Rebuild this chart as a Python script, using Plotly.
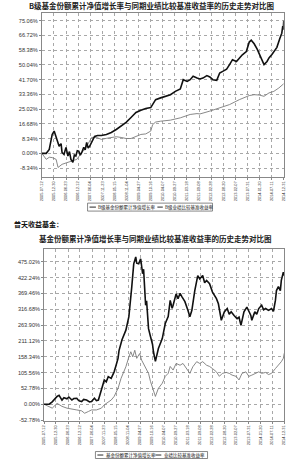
import pandas as pd
import plotly.graph_objects as go

START = "2005-07-12"

# ---------- tick labels ----------
x_tick_labels = ["2005-07-12", "2005-12-30", "2006-06-23", "2006-12-12", "2007-06-04",
                 "2007-11-23", "2008-05-15", "2008-11-04", "2009-04-27", "2009-10-16",
                 "2010-04-07", "2010-09-27", "2011-03-18", "2011-09-08", "2012-02-28",
                 "2012-08-20", "2013-02-07", "2013-07-31", "2014-01-20", "2014-07-11",
                 "2014-12-31"]
top_y_ticks = [-8.34, 0.00, 8.34, 16.68, 25.02, 33.36, 41.70, 50.04, 58.38, 66.72, 75.06]
bot_y_ticks = [-52.78, 0.00, 52.78, 105.56, 158.34, 211.12, 263.90, 316.68, 369.46, 422.24, 475.02]

# ---------- top chart: B class (days since start, %) ----------
top_fund_days = [0, 63, 106, 148, 176, 204, 247, 275, 289, 317, 345, 373, 395, 416, 444, 465,
                 486, 507, 528, 550, 571, 599, 620, 641, 662, 683, 712, 754, 796, 852, 923,
                 993, 1064, 1134, 1205, 1275, 1346, 1416, 1486, 1557, 1627, 1698, 1768, 1839,
                 1909, 1980, 2022, 2078, 2121, 2163, 2219, 2261, 2304, 2360, 2402, 2445, 2501,
                 2543, 2586, 2642, 2684, 2726, 2783, 2825, 2867, 2924, 2966, 2994, 3036, 3079,
                 3135, 3177, 3220, 3248, 3290, 3318, 3361, 3403, 3431, 3445, 3452, 3459]
top_fund_vals = [0.0, 0.0, 2.2, 10.7, 12.6, 9.0, 4.0, 5.5, 0.5, -0.6, 3.4, -1.5, 1.0, -3.4,
                 -5.1, -1.0, -1.5, 1.5, 1.3, -1.0, 0.5, 3.4, 2.0, 6.2, 3.0, 4.0, 6.2, 9.6,
                 10.1, 10.1, 10.7, 11.8, 13.5, 15.4, 17.5, 20.3, 23.1, 24.4, 25.4, 25.9, 30.4,
                 31.4, 32.3, 33.2, 35.1, 36.4, 41.7, 40.7, 41.7, 43.6, 42.6, 42.1, 42.6, 44.0,
                 43.2, 41.7, 41.3, 45.5, 46.4, 47.7, 50.2, 53.0, 52.0, 53.9, 55.8, 57.6, 63.0,
                 64.0, 62.0, 59.0, 54.0, 50.2, 52.0, 54.0, 56.0, 57.6, 60.0, 65.0, 68.0, 72.0,
                 70.0, 75.0]
top_bench_days = [0, 63, 106, 148, 204, 232, 289, 359, 430, 500, 571, 613, 683, 712, 782, 852,
                  923, 993, 1064, 1134, 1205, 1275, 1346, 1416, 1486, 1557, 1585, 1627, 1698,
                  1839, 1980, 2121, 2219, 2261, 2402, 2543, 2684, 2825, 2966, 3036, 3107, 3177,
                  3248, 3318, 3389, 3459]
top_bench_vals = [0.0, -3.4, -2.2, -2.4, -3.4, -8.0, -6.2, -5.3, -4.3, -3.4, 0.5, 2.2, 6.9,
                  9.0, 9.0, 7.9, 8.5, 9.0, 9.4, 9.0, 8.4, 8.4, 9.4, 10.7, 11.0, 12.6, 16.3,
                  17.7, 18.2, 18.8, 20.1, 22.0, 22.5, 22.3, 23.9, 25.7, 27.6, 30.4, 32.7, 33.2,
                  33.0, 32.3, 34.2, 35.1, 37.0, 39.4]

# ---------- bottom chart: fund (days since start, %) ----------
bot_fund_days = [0, 75, 118, 160, 188, 217, 259, 287, 330, 358, 401, 429, 472, 500, 542, 571,
                 613, 656, 684, 726, 755, 783, 826, 868, 896, 925, 967, 1010, 1038, 1066, 1080,
                 1123, 1179, 1222, 1264, 1292, 1321, 1335, 1363, 1392, 1420, 1434, 1448, 1463,
                 1477, 1491, 1505, 1533, 1562, 1576, 1604, 1647, 1675, 1703, 1746, 1788, 1817,
                 1845, 1859, 1902, 1930, 1959, 1987, 2029, 2072, 2100, 2129, 2171, 2214, 2242,
                 2285, 2313, 2341, 2384, 2426, 2483, 2511, 2553, 2596, 2638, 2667, 2695, 2737,
                 2780, 2808, 2836, 2879, 2921, 2950, 2978, 2992, 3035, 3063, 3092, 3134, 3162,
                 3191, 3233, 3276, 3304, 3332, 3347, 3375, 3403, 3417, 3446, 3459]
bot_fund_vals = [0, 0, 8, 20, 26, 30, 14, 22, 18, 24, 14, 19, 20, 12, 9, 16, 14, 8, 9, 20, 12,
                 14, 47, 81, 75, 92, 86, 108, 130, 153, 179, 215, 247, 292, 392, 468, 491, 470,
                 468, 485, 435, 450, 392, 330, 345, 302, 252, 226, 200, 175, 143, 186, 200, 219,
                 269, 292, 346, 320, 330, 368, 352, 370, 358, 342, 313, 292, 313, 379, 429, 418,
                 429, 405, 413, 402, 374, 352, 335, 280, 308, 319, 300, 308, 296, 285, 290, 263,
                 308, 324, 310, 296, 280, 308, 300, 319, 330, 315, 319, 313, 319, 310, 346, 379,
                 392, 379, 413, 440, 429]
bot_bench_days = [0, 75, 118, 188, 217, 259, 330, 401, 472, 542, 585, 641, 684, 755, 826, 868,
                  925, 967, 1010, 1066, 1109, 1151, 1179, 1222, 1250, 1278, 1307, 1335, 1377,
                  1406, 1448, 1477, 1505, 1533, 1576, 1604, 1647, 1703, 1746, 1788, 1817, 1859,
                  1902, 1959, 2001, 2058, 2100, 2143, 2199, 2242, 2285, 2341, 2384, 2426, 2483,
                  2525, 2568, 2624, 2667, 2709, 2766, 2808, 2851, 2907, 2950, 2992, 3049, 3092,
                  3134, 3191, 3233, 3276, 3332, 3375, 3417, 3446, 3459]
bot_bench_vals = [0, -7, -13, 3, -2, -7, -13, -15, -19, -22, -30, -24, -19, -19, -13, -2, 9,
                  14, 26, 53, 86, 110, 125, 158, 175, 158, 180, 153, 169, 147, 130, 114, 103,
                  76, 43, 26, 53, 70, 93, 103, 126, 114, 136, 130, 136, 119, 103, 125, 142, 136,
                  142, 130, 126, 119, 108, 93, 103, 106, 103, 97, 93, 81, 103, 108, 93, 97, 103,
                  108, 103, 106, 99, 103, 119, 130, 142, 153, 170]

titles = ["B级基金份额累计净值增长率与同期业绩比较基准收益率的历史走势对比图",
          "基金份额累计净值增长率与同期业绩比较基准收益率的历史走势对比图"]
section_text = "普天收益基金："
top_names = ["B级基金份额累计净值增长率", "B级业绩比较基准收益率"]
bot_names = ["基金份额累计净值增长率", "业绩比较基准收益率"]

# ---------- figure ----------
W, H = 300, 462
start = pd.Timestamp(START)
to_dates = lambda d: [start + pd.Timedelta(days=int(v)) for v in d]
tickvals = pd.to_datetime(x_tick_labels)

FONT = "Noto Sans CJK SC"
NUMFONT = "Liberation Sans"
fig = go.Figure()
fig.add_trace(go.Scatter(x=to_dates(top_bench_days), y=top_bench_vals, mode="lines",
                         line=dict(color="#7a7a7a", width=0.9), xaxis="x", yaxis="y",
                         name=top_names[1], showlegend=False))
fig.add_trace(go.Scatter(x=to_dates(top_fund_days), y=top_fund_vals, mode="lines",
                         line=dict(color="#111111", width=1.6), xaxis="x", yaxis="y",
                         name=top_names[0], showlegend=False))
fig.add_trace(go.Scatter(x=to_dates(bot_bench_days), y=bot_bench_vals, mode="lines",
                         line=dict(color="#7a7a7a", width=0.9), xaxis="x2", yaxis="y2",
                         name=bot_names[1], showlegend=False))
fig.add_trace(go.Scatter(x=to_dates(bot_fund_days), y=bot_fund_vals, mode="lines",
                         line=dict(color="#111111", width=1.6), xaxis="x2", yaxis="y2",
                         name=bot_names[0], showlegend=False))

def py(px):
    return 1 - px / H

xcommon = dict(type="date", range=[tickvals[0], tickvals[-1]], tickmode="array",
               tickvals=tickvals, ticktext=x_tick_labels, tickangle=-90,
               tickfont=dict(size=3.9, color="#333", family=NUMFONT),
               showgrid=True, gridcolor="#a8a8a8", griddash="dot", gridwidth=0.6,
               showline=True, linecolor="#888", linewidth=0.8, mirror=True,
               ticks="outside", ticklen=2, tickcolor="#888", zeroline=False)
ycommon = dict(tickmode="array", tickfont=dict(size=5.6, color="#333", family=NUMFONT),
               showgrid=True, gridcolor="#a8a8a8", griddash="dot", gridwidth=0.6,
               showline=True, linecolor="#888", linewidth=0.8, mirror=True,
               ticks="outside", ticklen=2, tickcolor="#888", zeroline=False)

fig.update_layout(
    width=W, height=H, margin=dict(l=0, r=0, t=0, b=0),
    paper_bgcolor="white", plot_bgcolor="white", showlegend=False,
    xaxis=dict(domain=[39.5 / W, 285.5 / W], anchor="y", **xcommon),
    yaxis=dict(domain=[py(177.7), py(13.3)], anchor="x", range=[-13.35, 79.3],
               tickvals=top_y_ticks, ticktext=[f"{v:.2f}%" for v in top_y_ticks], **ycommon),
    xaxis2=dict(domain=[41.7 / W, 286 / W], anchor="y2", **xcommon),
    yaxis2=dict(domain=[py(422.7), py(250)], anchor="x2", range=[-55.4, 517.8],
                tickvals=bot_y_ticks, ticktext=[f"{v:.2f}%" for v in bot_y_ticks], **ycommon),
)

ann = []
ann.append(dict(text="<b>" + titles[0] + "</b>", x=151 / W, y=py(5.5), xref="paper", yref="paper",
                yanchor="middle", showarrow=False, font=dict(size=7.5, color="#222", family=FONT)))
ann.append(dict(text="<b>" + section_text + "</b>", x=9 / W, y=py(225), xref="paper", yref="paper",
                xanchor="left", yanchor="middle", showarrow=False,
                font=dict(size=7, color="#111", family=FONT)))
ann.append(dict(text="<b>" + titles[1] + "</b>", x=155 / W, y=py(239.5), xref="paper", yref="paper",
                yanchor="middle", showarrow=False, font=dict(size=7.5, color="#222", family=FONT)))

shapes = []
def legend(box, items, yc):
    x0, x1, y0, y1 = box
    shapes.append(dict(type="rect", xref="paper", yref="paper", x0=x0 / W, x1=x1 / W,
                       y0=py(y1), y1=py(y0), line=dict(color="#555", width=0.7),
                       fillcolor="white", layer="above"))
    for (lx0, lx1, tx, name, col) in items:
        shapes.append(dict(type="line", xref="paper", yref="paper", x0=lx0 / W, x1=lx1 / W,
                           y0=py(yc), y1=py(yc), line=dict(color=col, width=0.9)))
        ann.append(dict(text=name, x=tx / W, y=py(yc), xref="paper", yref="paper",
                        xanchor="left", yanchor="middle", showarrow=False,
                        font=dict(size=4.5, color="#111", family=FONT)))

legend((86, 213, 204, 212), [(88, 94.5, 95, top_names[0], "#111"),
                             (157, 162.5, 163, top_names[1], "#111")], 208)
legend((94, 208, 453.5, 460.5), [(96, 102, 102.5, bot_names[0], "#111"),
                                 (155, 161, 161.5, bot_names[1], "#111")], 457)

fig.update_layout(annotations=ann, shapes=shapes)
fig.write_html("out.html")
